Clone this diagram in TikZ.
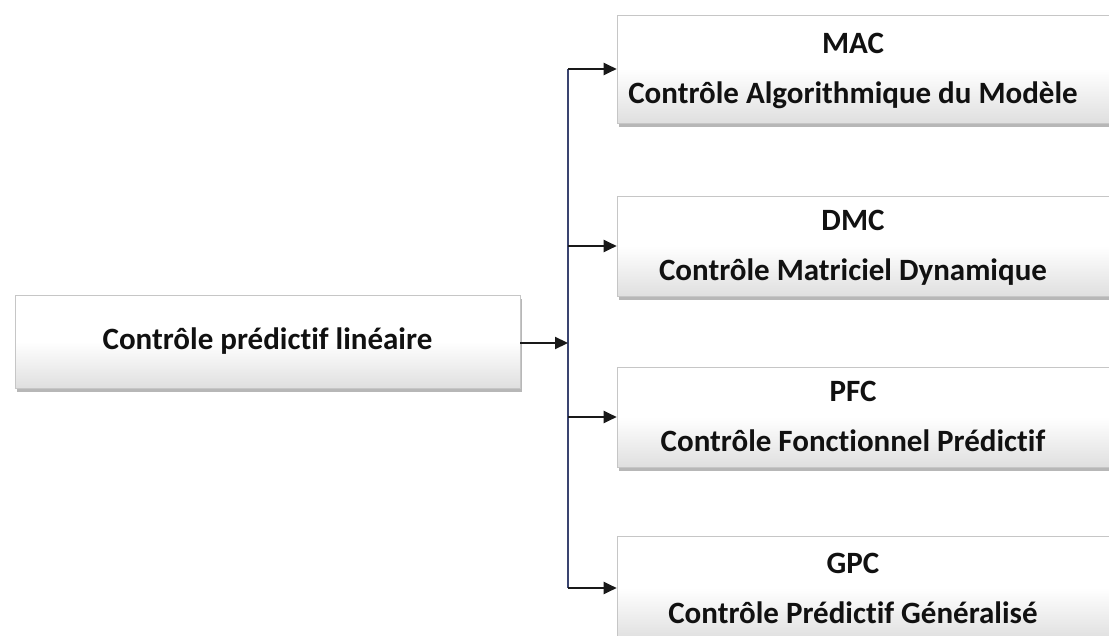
\documentclass[tikz,border=0pt]{standalone}
\usepackage{fontspec}
\setmainfont[Ligatures={NoCommon}]{Carlito}
\usetikzlibrary{arrows.meta,shadows}
\definecolor{trunkcol}{HTML}{3A4470}
\definecolor{txt}{HTML}{111111}
\tikzset{
  boxstyle/.style={rectangle, draw=gray!45, line width=0.6pt,
    top color=white, bottom color=gray!25, middle color=white,
    shading angle=0,
    drop shadow={shadow xshift=1.5pt, shadow yshift=-4pt, fill=gray!70, opacity=0.8},
    inner sep=0pt, text=txt,
    font=\fontsize{31}{50}\selectfont\bfseries},
  conn/.style={line width=2.2pt, draw=black!90, -{Triangle[length=13pt,width=12pt]}},
  trunk/.style={line width=1.6pt, draw=trunkcol},
}
\begin{document}
\begin{tikzpicture}[x=1pt,y=-1pt]
\useasboundingbox (0,0) rectangle (1109,636);
\clip (0,0) rectangle (1109,636);
\fill[white] (0,0) rectangle (1109,636);
\node[boxstyle, minimum width=505, minimum height=93] (lin) at (267.5,341.5) {Contrôle prédictif linéaire};
\node[boxstyle, minimum width=508, minimum height=108] (mac) at (871,69)
  {\begin{tabular}{@{}c@{}}MAC\\Contrôle Algorithmique du Modèle\end{tabular}\hspace*{36pt}};
\node[boxstyle, minimum width=508, minimum height=100] (dmc) at (871,246)
  {\begin{tabular}{@{}c@{}}DMC\\Contrôle Matriciel Dynamique\end{tabular}\hspace*{36pt}};
\node[boxstyle, minimum width=508, minimum height=96] (pfc) at (871,417)
  {\begin{tabular}{@{}c@{}}PFC\\Contrôle Fonctionnel Prédictif\end{tabular}\hspace*{36pt}};
\node[boxstyle, minimum width=508, minimum height=104] (gpc) at (871,588)
  {\begin{tabular}{@{}c@{}}GPC\\Contrôle Prédictif Généralisé\end{tabular}\hspace*{36pt}};
\coordinate (jtop) at (568,69);
\coordinate (jmid) at (568,343);
\coordinate (jbot) at (568,588);
\draw[trunk] (jtop) -- (jbot);
\draw[conn] (lin.east |- jmid) -- (jmid);
\draw[conn] (jtop) -- (mac.west);
\draw[conn] (jtop |- dmc.west) -- (dmc.west);
\draw[conn] (jtop |- pfc.west) -- (pfc.west);
\draw[conn] (jbot) -- (gpc.west);
\end{tikzpicture}
\end{document}
